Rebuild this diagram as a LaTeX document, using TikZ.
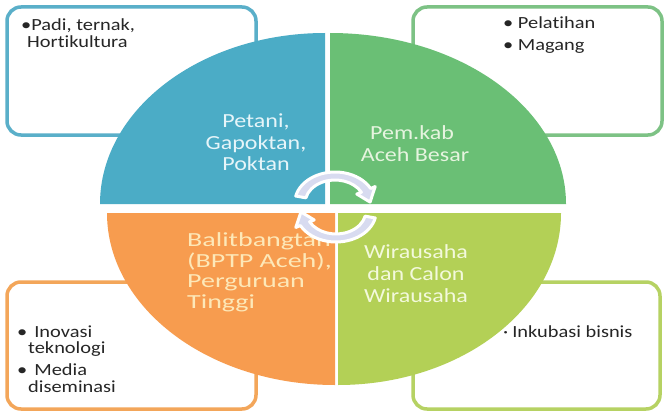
\documentclass[tikz,border=0pt]{standalone}
\usepackage{fontspec}
\newfontfamily\qfont[FakeStretch=1.2,Ligatures=NoCommon]{Carlito}
\newfontfamily\ofont[FakeStretch=1.4,Ligatures=NoCommon]{Carlito}
\definecolor{qblue}{HTML}{4BACC6}
\definecolor{qgreen}{HTML}{6ABF75}
\definecolor{qorange}{HTML}{F79C4F}
\definecolor{qlime}{HTML}{B3D056}
\definecolor{bblue}{HTML}{5AAFC9}
\definecolor{bgreen}{HTML}{7DC285}
\definecolor{borange}{HTML}{F3A65A}
\definecolor{blime}{HTML}{B6D263}
\definecolor{boxtext}{HTML}{262626}
\definecolor{tblue}{HTML}{E6F5F9}
\definecolor{tgreen}{HTML}{E6F4DF}
\definecolor{torange}{HTML}{FDE8B8}
\definecolor{tlime}{HTML}{F3F9DC}
\definecolor{arrowlav}{HTML}{D8DBF0}
\begin{document}
\begin{tikzpicture}[x=1pt,y=1pt,
  box/.style={line width=3.5pt, rounded corners=14pt, fill=white},
  btxt/.style={inner sep=0pt, anchor=base west, text=boxtext, font=\qfont\fontsize{17}{18}\selectfont},
  qtxt/.style={inner sep=0pt, anchor=base, font=\qfont\fontsize{20}{22}\selectfont},
  otxt/.style={inner sep=0pt, anchor=base west, text=torange, font=\ofont\fontsize{20}{22}\selectfont},
  arrowband/.style={fill=arrowlav, draw=white, line width=3pt, line join=round}
]
\useasboundingbox[fill=white] (0,0) rectangle (668,416);

% outer boxes
\draw[box, draw=bblue] (7,409) rectangle (256,281);
\draw[box, draw=bgreen] (413,409) rectangle (662,281);
\draw[box, draw=borange] (7,134) rectangle (256,7);
\draw[box, draw=blime] (413,134) rectangle (660,7);

% quadrants
\fill[qblue] (325,212) -- (100,212) arc[start angle=180, end angle=90, x radius=225, y radius=171] -- cycle;
\fill[qgreen] (330,212) -- (330,383) arc[start angle=90, end angle=0, x radius=236, y radius=171] -- cycle;
\fill[qorange] (335,203) -- (107,203) arc[start angle=180, end angle=270, x radius=228, y radius=172] -- cycle;
\fill[qlime] (338,203) -- (561,203) arc[start angle=0, end angle=-90, x radius=223, y radius=172] -- cycle;

% box texts
\node[btxt] (tl1) at (21,385) {•Padi, ternak,};
\node[btxt] (tl2) at (27,368) {Hortikultura};
\node[btxt] (tr1) at (503,387) {• Pelatihan};
\node[btxt] (tr2) at (503,366) {• Magang};
\node[btxt] (bl1) at (17,79) {•\hspace{7pt}Inovasi};
\node[btxt] (bl2) at (28,63) {teknologi};
\node[btxt] (bl3) at (17,41) {•\hspace{7pt}Media};
\node[btxt] (bl4) at (28,24) {diseminasi};
\node[btxt] (br1) at (503,79) {·\hspace{4pt}Inkubasi bisnis};

% quadrant texts
\node[qtxt, text=tblue] (qb1) at (256,289) {Petani,};
\node[qtxt, text=tblue] (qb2) at (256,267) {Gapoktan,};
\node[qtxt, text=tblue] (qb3) at (256,246) {Poktan};
\node[qtxt, text=tgreen] (qg1) at (412,277) {Pem.kab};
\node[qtxt, text=tgreen] (qg2) at (415,255) {Aceh Besar};
\node[otxt] (qo1) at (187,170) {Balitbangtan};
\node[otxt] (qo2) at (187,149) {(BPTP Aceh),};
\node[otxt] (qo3) at (187,129) {Perguruan};
\node[otxt] (qo4) at (187,108) {Tinggi};
\node[qtxt, text=tlime] (ql1) at (416,158) {Wirausaha};
\node[qtxt, text=tlime] (ql2) at (416,136) {dan Calon};
\node[qtxt, text=tlime] (ql3) at (416,114) {Wirausaha};

% circular arrows
\begin{scope}[shift={(335,213)}, xscale=1.3]
\path[arrowband] (167:31) arc[start angle=167, end angle=28, radius=31]
  -- (28:35) -- (2:27) -- (28:19) -- (28:23)
  arc[start angle=28, end angle=167, radius=23] -- cycle;
\end{scope}
\begin{scope}[shift={(336,205)}, xscale=1.3]
\path[arrowband] (-13:31) arc[start angle=-13, end angle=-152, radius=31]
  -- (-152:35) -- (-178:27) -- (-152:19) -- (-152:23)
  arc[start angle=-152, end angle=-13, radius=23] -- cycle;
\end{scope}
\end{tikzpicture}
\end{document}
